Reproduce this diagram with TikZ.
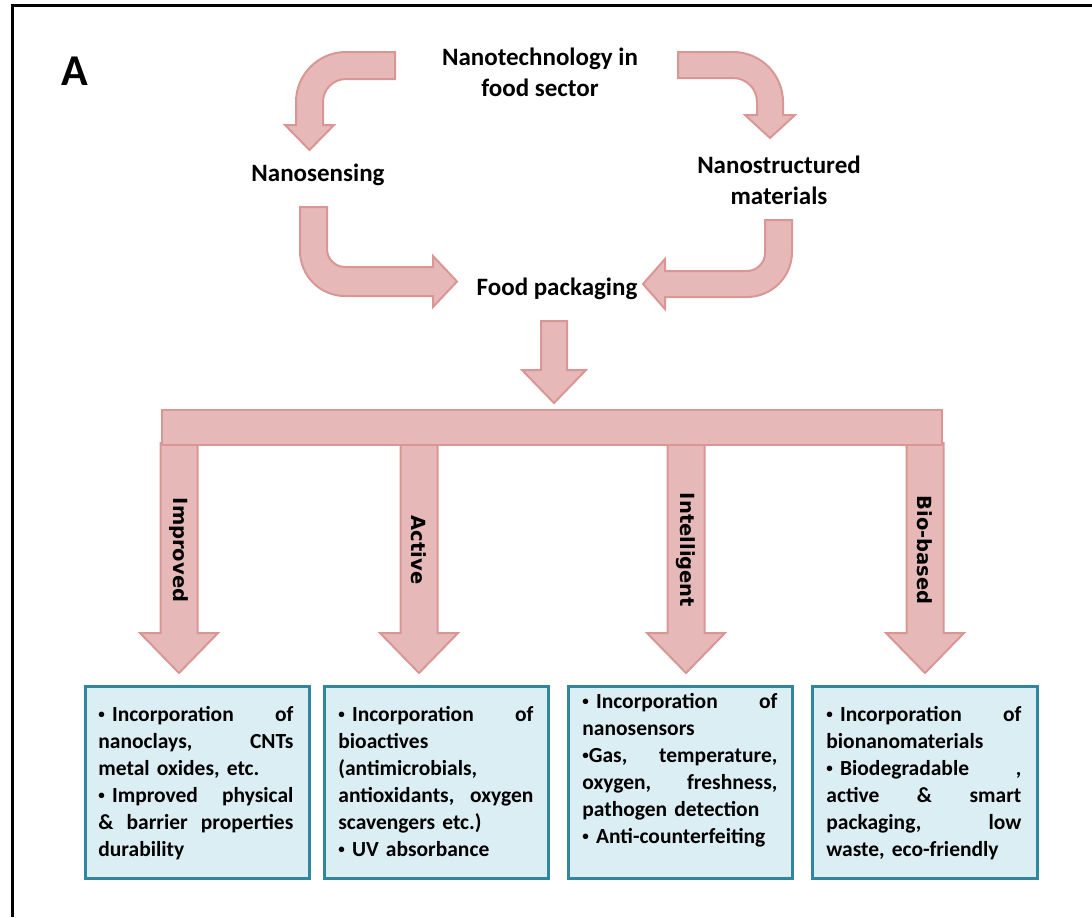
\documentclass[tikz,border=0pt]{standalone}
\usepackage{fontspec}
\setmainfont{Carlito}
\newfontfamily\djv{DejaVu Sans}
\definecolor{arrfill}{HTML}{E6B9B8}
\definecolor{arrline}{HTML}{D99694}
\definecolor{boxfill}{HTML}{DBEEF4}
\definecolor{boxline}{HTML}{31859C}
\newcommand\smbul{\raisebox{1.3pt}{\fontsize{6.5}{7}\selectfont•}}
\begin{document}
\begin{tikzpicture}[x=0.5pt,y=-0.5pt,
  arr/.style={fill=arrfill, draw=arrline, line width=1pt, line join=miter},
  boxst/.style={fill=boxfill, draw=boxline, line width=1.5pt, inner sep=0, anchor=north west},
  lbl/.style={font=\bfseries\fontsize{12.5}{15.5}\selectfont, align=center, inner sep=0, text=black},
  btxt/.style={font=\bfseries\fontsize{10.75}{13.5}\selectfont, text width=97.5pt, align=left, inner sep=0, anchor=north west, text=black},
  rot/.style={font=\djv\bfseries\fontsize{9.75}{12}\selectfont, rotate=-90, inner sep=0, text=black}]
\useasboundingbox (0,0) rectangle (1092,917);
% frame
\draw[line width=1.5pt] (12,917) -- (12,5) -- (1092,5);
% label A
\node[font=\bfseries\fontsize{22}{26}\selectfont, inner sep=0] (A) at (75,71) {A};
% texts
\node[lbl] (nano) at (540,72) {Nanotechnology in\\food sector};
\node[lbl] (sens) at (318,175) {Nanosensing};
\node[lbl] (struct) at (779,180) {Nanostructured\\materials};
\node[lbl] (fp) at (557,289) {Food packaging};
% top-left bent arrow
\draw[arr] (395,52) -- (346,52) .. controls (318.4,52) and (296,74.4) .. (296,102)
  -- (296,125) -- (285,125) -- (309.5,150) -- (334,125) -- (323,125) -- (323,102)
  .. controls (323,89.3) and (333.3,79) .. (346,79) -- (395,79) -- cycle;
% top-right bent arrow
\draw[arr] (678,52) -- (733,52) .. controls (760.6,52) and (783,74.4) .. (783,102)
  -- (783,115) -- (795,115) -- (770,138) -- (745,115) -- (757,115) -- (757,102)
  .. controls (757,88.7) and (746.3,78) .. (733,78) -- (678,78) -- cycle;
% nanosensing -> food packaging
\draw[arr] (300,207) -- (300,251) .. controls (300,275.8) and (320.2,296) .. (345,296)
  -- (433,296) -- (433,307) -- (457,281.5) -- (433,256) -- (433,267) -- (345,267)
  .. controls (335.1,267) and (327,258.9) .. (327,249) -- (327,207) -- cycle;
% nanostructured -> food packaging
\draw[arr] (792,220) -- (792,252) .. controls (792,276.8) and (771.8,297) .. (747,297)
  -- (665,297) -- (665,309) -- (643,284) -- (665,259) -- (665,271) -- (747,271)
  .. controls (756.9,271) and (765,262.9) .. (765,253) -- (765,220) -- cycle;
% down arrow
\draw[arr] (541,321) -- (541,370) -- (522,370) -- (554,403) -- (586,370) -- (567,370) -- (567,321) -- cycle;
% branch arrows
\foreach \c in {179,419,686,925}{
  \draw[arr] (\c-18.5,443) -- (\c-18.5,633) -- (\c-39,633) -- (\c,673) -- (\c+39,633) -- (\c+18.5,633) -- (\c+18.5,443) -- cycle;
}
% bar
\draw[arr] (162,410) rectangle (942,445);
% rotated labels
\node[rot] (l1) at (179,550) {Improved};
\node[rot] (l2) at (419,550) {Active};
\node[rot] (l3) at (686,550) {Intelligent};
\node[rot] (l4) at (925,550) {Bio-based};
% boxes
\node[boxst, minimum width=112pt, minimum height=96pt] (b1) at (84,685) {};
\node[boxst, minimum width=112pt, minimum height=96pt] (b2) at (323,685) {};
\node[boxst, minimum width=112pt, minimum height=96pt] (b3) at (567,685) {};
\node[boxst, minimum width=112.5pt, minimum height=96pt] (b4) at (811,685) {};
\node[btxt] (t1) at (98,706) {\smbul{} Incorporation\hfill of\\
nanoclays,\hfill CNTs\\
metal oxides, etc.\\
\smbul{} Improved\hfill physical\\
\&\hfill barrier\hfill properties\\
durability};
\node[btxt] (t2) at (338,706) {\smbul{} Incorporation\hfill of\\
bioactives\\
(antimicrobials,\\
antioxidants,\hfill oxygen\\
scavengers etc.)\\
\smbul{} UV absorbance};
\node[btxt] (t3) at (582,693) {\smbul{} Incorporation\hfill of\\
nanosensors\\
\smbul Gas,\hfill temperature,\\
oxygen,\hfill freshness,\\
pathogen detection\\
\smbul{} Anti-counterfeiting};
\node[btxt] (t4) at (826,706) {\smbul{} Incorporation\hfill of\\
bionanomaterials\\
\smbul{} Biodegradable\hfill ,\\
active\hfill \&\hfill smart\\
packaging,\hfill low\\
waste, eco-friendly};
\end{tikzpicture}
\end{document}
